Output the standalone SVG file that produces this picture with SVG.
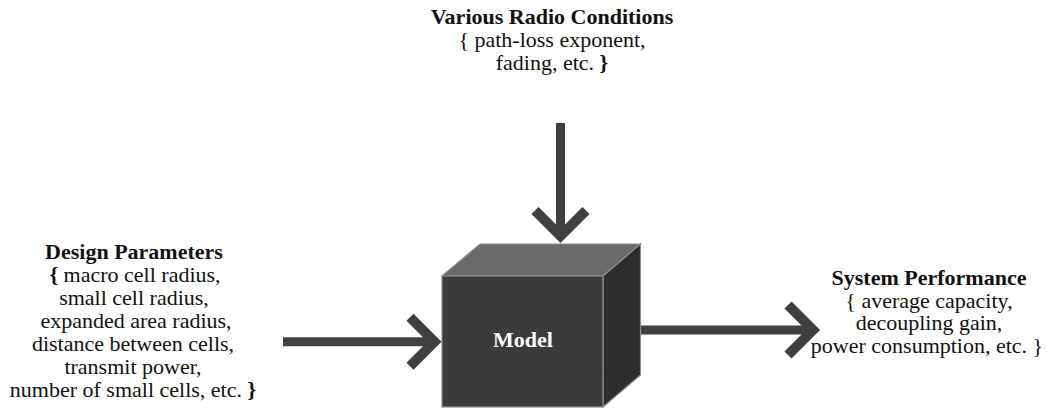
<svg xmlns="http://www.w3.org/2000/svg" width="1047" height="408" viewBox="0 0 1047 408">
<style>
  .t { font-size: 22px; fill: #111; text-anchor: middle; }
  .b { font-weight: bold; }
  .shaft { stroke: #404040; stroke-width: 9; fill: none; }
  .head { stroke: #404040; stroke-width: 10; fill: none; stroke-linejoin: miter; stroke-linecap: butt; }
  .edge { stroke: #8c8c8c; stroke-width: 1.2; stroke-linejoin: miter; }
</style>
<rect width="1047" height="408" fill="#ffffff"/>

<g id="connectors">
  <g id="arrow-radio">
    <line class="shaft" x1="560.5" y1="123" x2="560.5" y2="236"/>
    <polyline class="head" points="535,210.5 560.5,236 586,210.5"/>
  </g>
  <g id="arrow-design">
    <line class="shaft" x1="283" y1="341.7" x2="434" y2="341.7"/>
    <polyline class="head" points="410,317.2 434.5,341.7 410,366.2"/>
  </g>
  <g id="arrow-performance">
    <line class="shaft" x1="640.5" y1="330" x2="813" y2="330"/>
    <polyline class="head" points="788,305 813,330 788,355"/>
  </g>
</g>

<g id="model">
  <polygon class="edge" points="442,276 480,244 640.5,244 603,276" fill="#6a6a6a"/>
  <polygon class="edge" points="603,276 640.5,244 640.5,375 603,407" fill="#2d2d2d"/>
  <rect class="edge" x="442" y="276" width="161" height="131" fill="#3b3b3b"/>
  <text class="t b" font-family="Liberation Serif" x="523" y="347" style="fill:#ffffff">Model</text>
</g>

<g id="radio-conditions">
  <text class="t b" font-family="Liberation Serif" x="552" y="24">Various Radio Conditions</text>
  <text class="t" font-family="Liberation Serif" x="552" y="47">{ path-loss exponent,</text>
  <text class="t" font-family="Liberation Serif" x="552" y="70">fading, etc. <tspan class="b">}</tspan></text>
</g>

<g id="design-parameters">
  <text class="t b" font-family="Liberation Serif" x="134" y="259">Design Parameters</text>
  <text class="t" font-family="Liberation Serif" x="135" y="282"><tspan class="b">{</tspan> macro cell radius,</text>
  <text class="t" font-family="Liberation Serif" x="134" y="305">small cell radius,</text>
  <text class="t" font-family="Liberation Serif" x="136" y="328">expanded area radius,</text>
  <text class="t" font-family="Liberation Serif" x="133" y="351">distance between cells,</text>
  <text class="t" font-family="Liberation Serif" x="133" y="374">transmit power,</text>
  <text class="t" font-family="Liberation Serif" x="133" y="397">number of small cells, etc. <tspan class="b">}</tspan></text>
</g>

<g id="system-performance">
  <text class="t b" font-family="Liberation Serif" x="929" y="285">System Performance</text>
  <text class="t" font-family="Liberation Serif" x="929" y="307.5">{ average capacity,</text>
  <text class="t" font-family="Liberation Serif" x="929" y="330">decoupling gain,</text>
  <text class="t" font-family="Liberation Serif" x="927" y="352.5">power consumption, etc. }</text>
</g>
</svg>
